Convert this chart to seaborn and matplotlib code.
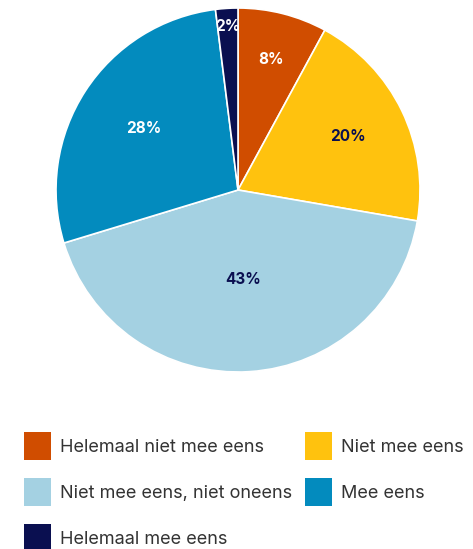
import numpy as np
import seaborn as sns
import matplotlib.pyplot as plt
from matplotlib.patches import Patch

categories = ["Helemaal niet mee eens", "Niet mee eens", "Niet mee eens, niet oneens",
              "Mee eens", "Helemaal mee eens"]
values = [8, 20, 43, 28, 2]
colors = ["#D04D00", "#FFC20E", "#A4D1E2", "#038BBE", "#0A0F50"]
label_colors = ["white", "#0A0F50", "#0A0F50", "white", "white"]
label_dist = [0.74, 0.67, 0.49, 0.62, 0.9]

sns.set_theme(style="white")
plt.rcParams['font.family'] = ['Inter', 'DejaVu Sans']

fig = plt.figure(figsize=(4.73, 5.49), dpi=100)
ax = fig.add_axes([0.1184, 0.3224, 0.7696, 0.663])

wedges, _ = ax.pie(values, colors=colors, startangle=90, counterclock=False,
                   wedgeprops=dict(edgecolor="white", linewidth=1.2))
ax.set_xlim(-1, 1)
ax.set_ylim(-1, 1)
ax.set_aspect("equal")

for w, v, c, d in zip(wedges, values, label_colors, label_dist):
    ang = np.deg2rad((w.theta1 + w.theta2) / 2)
    ax.text(d * np.cos(ang), d * np.sin(ang), f"{v}%", ha="center", va="center",
            color=c, fontsize=11, fontweight="bold")

handles = [Patch(facecolor=c, edgecolor="none") for c in colors]
order = [0, 2, 4, 1, 3]
fig.legend([handles[i] for i in order], [categories[i] for i in order],
           ncol=2, loc="upper left", bbox_to_anchor=(0.051, 0.213),
           frameon=False, fontsize=13, labelcolor="#333333",
           handlelength=1.5, handleheight=2.0, handletextpad=0.5,
           columnspacing=0.72, labelspacing=1.0, borderaxespad=0, borderpad=0)

fig.savefig("out.png", dpi=100)
